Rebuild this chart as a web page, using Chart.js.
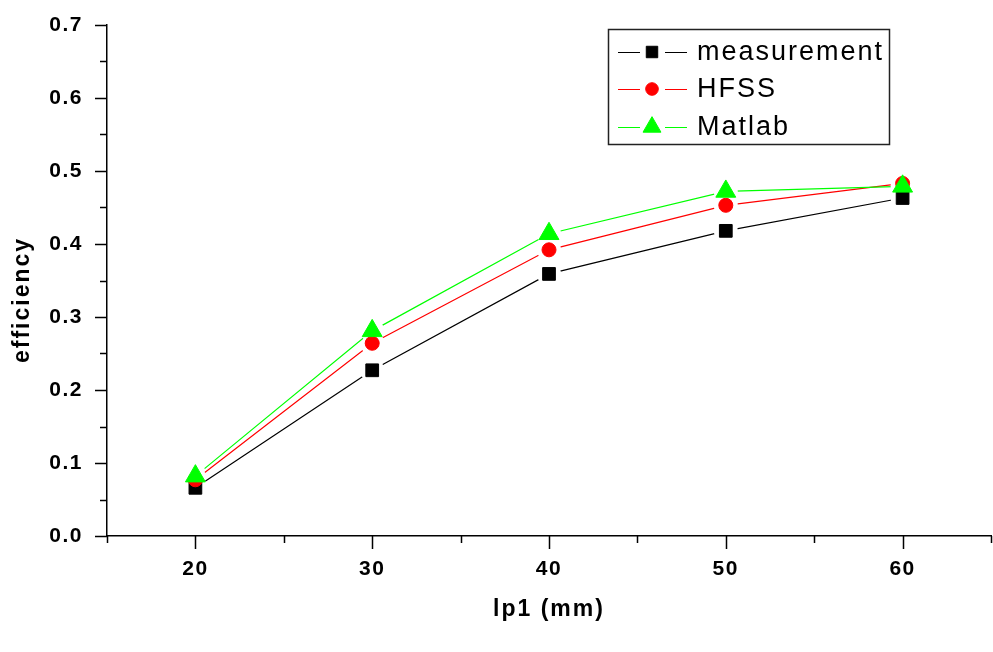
<!DOCTYPE html>
<html>
<head>
<meta charset="utf-8">
<script src="https://cdn.jsdelivr.net/npm/chart.js@4.4.1/dist/chart.umd.min.js"></script>
<style>
  html, body { margin: 0; padding: 0; background: #fff; overflow: hidden; }
  #c { display: block; }
</style>
</head>
<body>
<canvas id="c" width="993" height="652"></canvas>
<script>
const categories = [20, 30, 40, 50, 60];
const measurement = [0.066, 0.227, 0.359, 0.418, 0.463];
const hfss = [0.077, 0.264, 0.392, 0.453, 0.483];
const matlab = [0.082, 0.281, 0.414, 0.472, 0.479];
const seriesNames = ['measurement', 'HFSS', 'Matlab'];
const xTickValues = [20, 30, 40, 50, 60];
const yTickValues = [0.0, 0.1, 0.2, 0.3, 0.4, 0.5, 0.6, 0.7];
const xTitle = 'lp1 (mm)';
const yTitle = 'efficiency';

const styles = [
  { color: '#000000', pointStyle: 'rect', radius: 9 },
  { color: '#ff0000', pointStyle: 'circle', radius: 7 },
  { color: '#00ff00', pointStyle: 'triangle', radius: 11.5 }
];
const seriesValues = [measurement, hfss, matlab];
const toPts = vals => categories.map((x, i) => ({ x: x, y: vals[i] }));

const datasets = [];
seriesValues.forEach((vals, i) => {
  datasets.push({
    label: seriesNames[i] + ' line',
    data: toPts(vals),
    borderColor: styles[i].color,
    borderWidth: 1.2,
    pointRadius: 0,
    pointHoverRadius: 0,
    fill: false,
    tension: 0,
    order: 10 + (2 - i),
    _gapLine: true
  });
});
seriesValues.forEach((vals, i) => {
  datasets.push({
    label: seriesNames[i],
    data: toPts(vals),
    showLine: false,
    borderColor: styles[i].color,
    backgroundColor: styles[i].color,
    borderWidth: 1,
    pointStyle: styles[i].pointStyle,
    pointRadius: styles[i].radius,
    pointHoverRadius: styles[i].radius,
    order: 2 - i,
    clip: false
  });
});

const GAP = 12;
const gapPlugin = {
  id: 'gapPlugin',
  beforeDatasetDraw(chart, args) {
    const ds = chart.data.datasets[args.index];
    if (!ds._gapLine) return;
    const ctx = chart.ctx;
    ctx.save();
    ctx.beginPath();
    ctx.rect(0, 0, chart.width, chart.height);
    args.meta.data.forEach(p => {
      ctx.moveTo(p.x + GAP, p.y);
      ctx.arc(p.x, p.y, GAP, 0, Math.PI * 2);
    });
    ctx.clip('evenodd');
  },
  afterDatasetDraw(chart, args) {
    const ds = chart.data.datasets[args.index];
    if (!ds._gapLine) return;
    chart.ctx.restore();
  }
};

const decorPlugin = {
  id: 'decor',
  beforeDraw(chart) { chart.ctx.letterSpacing = '1.5px'; },
  afterDraw(chart) {
    const ctx = chart.ctx;
    const xs = chart.scales.x, ys = chart.scales.y;
    const area = chart.chartArea;
    ctx.save();
    ctx.strokeStyle = '#000';
    ctx.lineWidth = 1.5;
    const yStep = yTickValues[1] - yTickValues[0];
    ctx.beginPath();
    yTickValues.forEach(v => {
      const py = Math.round(ys.getPixelForValue(v)) + 0.5;
      ctx.moveTo(area.left, py); ctx.lineTo(area.left - 12, py);
    });
    for (let k = 0; k < yTickValues.length - 1; k++) {
      const v = yTickValues[k] + yStep / 2;
      const py = Math.round(ys.getPixelForValue(v)) + 0.5;
      ctx.moveTo(area.left, py); ctx.lineTo(area.left - 7, py);
    }
    const xStep = xTickValues[1] - xTickValues[0];
    xTickValues.forEach(v => {
      const px = Math.round(xs.getPixelForValue(v)) + 0.5;
      ctx.moveTo(px, area.bottom); ctx.lineTo(px, area.bottom + 13);
    });
    const minors = [xTickValues[0] - xStep / 2];
    xTickValues.forEach(v => minors.push(v + xStep / 2));
    minors.forEach(v => {
      const px = Math.round(xs.getPixelForValue(v)) + 0.5;
      ctx.moveTo(px, area.bottom); ctx.lineTo(px, area.bottom + 7);
    });
    ctx.stroke();

    ctx.fillStyle = '#000';
    ctx.letterSpacing = '2px';
    ctx.font = 'bold 23px "Liberation Sans", Arial, sans-serif';
    ctx.textAlign = 'center';
    ctx.textBaseline = 'middle';
    ctx.fillText(xTitle, (area.left + area.right) / 2, 610);
    ctx.save();
    ctx.translate(23, 300);
    ctx.rotate(-Math.PI / 2);
    ctx.fillText(yTitle, 0, 0);
    ctx.restore();

    const bx = 608, by = 29, bw = 281, bh = 115;
    ctx.lineWidth = 1.5;
    ctx.strokeStyle = '#222';
    ctx.strokeRect(bx + 0.5, by + 0.5, bw, bh);
    const rows = [52, 89, 127];
    ctx.font = '27px "Liberation Sans", Arial, sans-serif';
    ctx.textAlign = 'left';
    ctx.letterSpacing = '2px';
    seriesNames.forEach((name, i) => {
      const y = rows[i];
      const st = styles[i];
      ctx.strokeStyle = st.color;
      ctx.lineWidth = 1.2;
      ctx.beginPath();
      ctx.moveTo(618, y + 0.5); ctx.lineTo(640, y + 0.5);
      ctx.moveTo(665, y + 0.5); ctx.lineTo(687, y + 0.5);
      ctx.stroke();
      ctx.fillStyle = st.color;
      ctx.lineWidth = 1;
      Chart.helpers.drawPoint(ctx, { pointStyle: st.pointStyle, radius: st.radius * 0.9, borderWidth: 1, rotation: 0 }, 652, y);
      ctx.fillStyle = '#000';
      ctx.fillText(name, 697, y + 1);
    });
    ctx.restore();
  }
};

new Chart(document.getElementById('c'), {
  type: 'line',
  data: { datasets: datasets },
  options: {
    responsive: false,
    animation: false,
    events: [],
    layout: { autoPadding: false, padding: { top: 25, right: 2, left: 0, bottom: 0 } },
    plugins: { legend: { display: false }, tooltip: { enabled: false }, title: { display: false } },
    scales: {
      x: {
        type: 'linear',
        min: 15, max: 65,
        afterBuildTicks: s => { s.ticks = xTickValues.map(v => ({ value: v })); },
        afterFit: s => { s.height = 116; },
        grid: { display: true, drawOnChartArea: false, drawTicks: true, tickLength: 12, tickColor: 'rgba(0,0,0,0)' },
        border: { display: true, color: '#000', width: 1.5 },
        ticks: {
          padding: 9,
          color: '#000',
          font: { family: '"Liberation Sans", Arial, sans-serif', size: 21, weight: 'bold' },
          maxRotation: 0,
          callback: v => String(v)
        }
      },
      y: {
        type: 'linear',
        min: 0, max: 0.7,
        afterBuildTicks: s => { s.ticks = yTickValues.map(v => ({ value: v })); },
        afterFit: s => { s.width = 107; },
        grid: { display: true, drawOnChartArea: false, drawTicks: true, tickLength: 12, tickColor: 'rgba(0,0,0,0)' },
        border: { display: true, color: '#000', width: 1.5 },
        ticks: {
          padding: 12,
          color: '#000',
          font: { family: '"Liberation Sans", Arial, sans-serif', size: 21, weight: 'bold' },
          callback: v => Number(v).toFixed(1)
        }
      }
    }
  },
  plugins: [gapPlugin, decorPlugin]
});
</script>
</body>
</html>
